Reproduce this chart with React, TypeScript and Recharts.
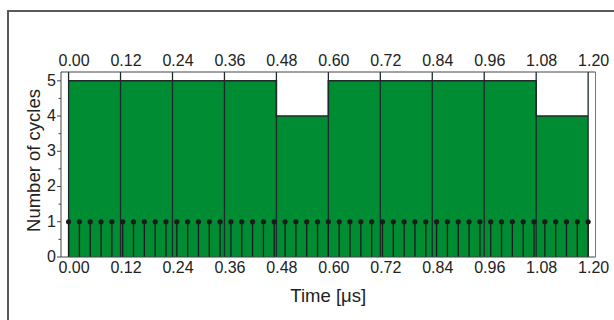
import { ComposedChart, Area, Scatter, XAxis, YAxis, ReferenceLine, Label } from 'recharts';

const binEdges = [0, 0.12, 0.24, 0.36, 0.48, 0.6, 0.72, 0.84, 0.96, 1.08, 1.2];
const cycleCounts = [5, 5, 5, 5, 4, 5, 5, 5, 5, 4];
const timeTicks = [0, 0.12, 0.24, 0.36, 0.48, 0.6, 0.72, 0.84, 0.96, 1.08, 1.2];
const countTicks = [0, 0.5, 1, 1.5, 2, 2.5, 3, 3.5, 4, 4.5, 5];

// pulse times, one per clock edge
const stemTimes = [
  0, 0.025, 0.05, 0.075, 0.1, 0.125, 0.15, 0.175, 0.2, 0.225,
  0.25, 0.275, 0.3, 0.325, 0.35, 0.375, 0.4, 0.425, 0.45, 0.475,
  0.5, 0.525, 0.55, 0.575, 0.6, 0.625, 0.65, 0.675, 0.7, 0.725,
  0.75, 0.775, 0.8, 0.825, 0.85, 0.875, 0.9, 0.925, 0.95, 0.975,
  1.0, 1.025, 1.05, 1.075, 1.1, 1.125, 1.15, 1.175, 1.2,
];
const stemHeight = 1;

const FONT = '"Liberation Sans", Arial, sans-serif';
const GREEN = '#008c32';
const DARK = '#1e2a2a';
const AXIS = '#444';

const histData = binEdges.map((t, i) => ({ t, n: cycleCounts[Math.min(i, cycleCounts.length - 1)] }));
const stemData = stemTimes.map((t) => ({ t, v: stemHeight }));

function LeftTick(props: any) {
  const { x, y, payload } = props;
  const major = Number.isInteger(payload.value);
  const ax = x + 5;
  return (
    <g>
      <line x1={ax - (major ? 4 : 2.5)} x2={ax} y1={y} y2={y} stroke={AXIS} strokeWidth={1} />
      {major && (
        <text x={x} y={y} dy="0.3em" textAnchor="end" fontSize={16} fontFamily={FONT} fill="#222">
          {payload.value}
        </text>
      )}
    </g>
  );
}

function RightTick(props: any) {
  const { x, y, payload } = props;
  const major = Number.isInteger(payload.value);
  return <line x1={x - (major ? 4 : 2.5)} x2={x} y1={y} y2={y} stroke="#777" strokeWidth={1} />;
}

// time labels sit a little right of their tick in the original
function TimeTick(props: any) {
  const { x, y, payload, top } = props;
  return (
    <text
      x={x + 5.5}
      y={y}
      dy={top ? 0 : '0.71em'}
      textAnchor="middle"
      fontSize={16}
      fontFamily={FONT}
      fill="#222"
    >
      {Number(payload.value).toFixed(2)}
    </text>
  );
}

export default function App() {
  return (
    <div style={{ position: 'absolute', left: 0, top: 0, width: 614, height: 320, overflow: 'hidden', background: '#fff' }}>
      <div
        style={{
          position: 'absolute',
          left: 7,
          top: 9.5,
          width: 700,
          height: 400,
          border: '2px solid #5a5a5a',
        }}
      />
      <ComposedChart
        width={614}
        height={320}
        margin={{ top: 52, right: 17.5, bottom: 43, left: 41 }}
        style={{ position: 'absolute', left: 0, top: 0, fontFamily: FONT }}
      >
        <XAxis
          xAxisId="b"
          dataKey="t"
          type="number"
          domain={[-0.0175, 1.217]}
          ticks={timeTicks}
          interval={0}
          tickLine={false}
          tickSize={0}
          tickMargin={5}
          height={20}
          stroke={AXIS}
          tick={<TimeTick />}
          allowDataOverflow
        >
          <Label
            content={({ viewBox }: any) => (
              <text
                x={viewBox.x + viewBox.width / 2}
                y={viewBox.y + viewBox.height + 25}
                textAnchor="middle"
                fontSize={18.5}
                fontFamily={FONT}
                fill="#222"
              >
                Time [μs]
              </text>
            )}
          />
        </XAxis>
        <XAxis
          xAxisId="t"
          dataKey="t"
          type="number"
          orientation="top"
          domain={[-0.0175, 1.217]}
          ticks={timeTicks}
          interval={0}
          tickLine={false}
          tickSize={0}
          tickMargin={6}
          height={20}
          stroke={AXIS}
          tick={<TimeTick top />}
          allowDataOverflow
        />
        <YAxis
          yAxisId="l"
          type="number"
          domain={[0, 5.25]}
          ticks={countTicks}
          interval={0}
          tick={<LeftTick />}
          tickLine={false}
          tickSize={0}
          tickMargin={5}
          width={20}
          stroke={AXIS}
        >
          <Label
            content={({ viewBox }: any) => {
              const cx = viewBox.x - 1;
              const cy = viewBox.y + viewBox.height / 2 - 4;
              return (
                <text
                  x={cx}
                  y={cy}
                  transform={`rotate(-90 ${cx} ${cy})`}
                  textAnchor="middle"
                  fontSize={18.5}
                  fontFamily={FONT}
                  fill="#222"
                >
                  Number of cycles
                </text>
              );
            }}
          />
        </YAxis>
        <YAxis
          yAxisId="r"
          orientation="right"
          type="number"
          domain={[0, 5.25]}
          ticks={countTicks}
          interval={0}
          tick={<RightTick />}
          tickLine={false}
          tickSize={0}
          tickMargin={0}
          width={1}
          stroke="#777"
        />
        <Area
          xAxisId="b"
          yAxisId="l"
          data={histData}
          dataKey="n"
          type="stepAfter"
          fill={GREEN}
          fillOpacity={1}
          stroke={DARK}
          strokeWidth={1.5}
          isAnimationActive={false}
        />
        {binEdges.map((t) => (
          <ReferenceLine key={`g-${t}`} xAxisId="b" yAxisId="l" x={t} stroke={DARK} strokeWidth={1.3} />
        ))}
        {stemTimes.map((t) => (
          <ReferenceLine
            key={`s-${t}`}
            xAxisId="b"
            yAxisId="l"
            segment={[{ x: t, y: 0 }, { x: t, y: stemHeight }]}
            stroke="#1b1b1b"
            strokeWidth={1.3}
          />
        ))}
        <Scatter
          xAxisId="b"
          yAxisId="l"
          data={stemData}
          dataKey="v"
          isAnimationActive={false}
          shape={(p: any) => <circle cx={p.cx} cy={p.cy} r={2.6} fill="#1b1b1b" />}
        />
      </ComposedChart>
    </div>
  );
}
